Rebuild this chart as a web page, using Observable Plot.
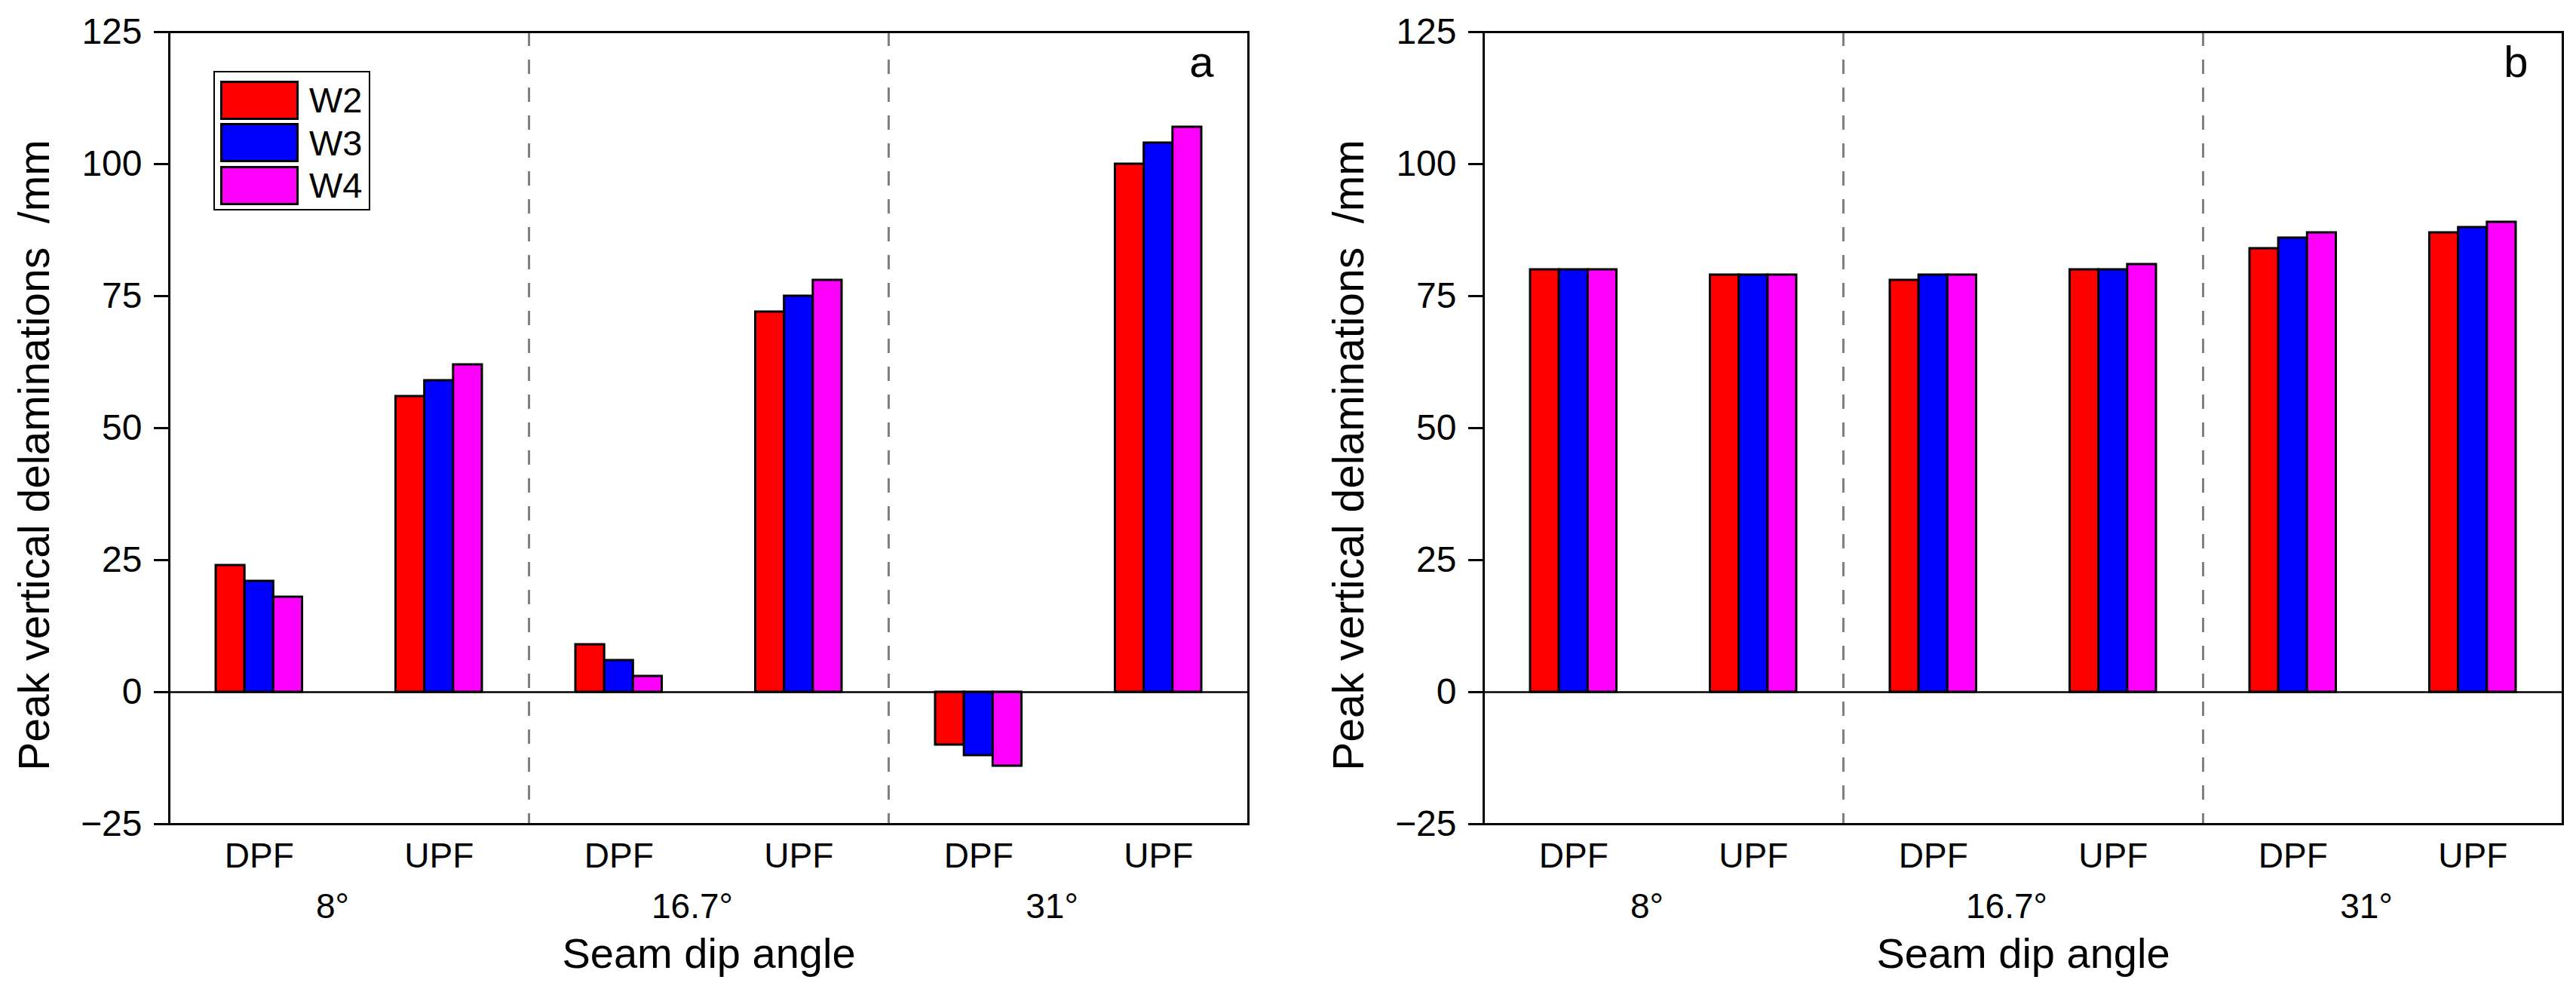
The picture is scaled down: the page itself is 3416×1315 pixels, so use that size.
<!DOCTYPE html>
<html>
<head>
<meta charset="utf-8">
<script src="https://cdn.jsdelivr.net/npm/d3@7"></script>
<script src="https://cdn.jsdelivr.net/npm/@observablehq/plot@0.6"></script>
<style>
  html, body { margin: 0; padding: 0; background: #fff; overflow: hidden; }
  #wrap { position: relative; width: 3416px; height: 1315px; display: flex; font-family: "Liberation Sans", Arial, sans-serif; }
  .legend { position: absolute; border: 2px solid #000; background: #fff; box-sizing: border-box; }
  .legend .row { position: absolute; display: flex; align-items: center; }
  .legend .sw { box-sizing: border-box; border: 3px solid #000; }
  .legend .lab { font-size: 47px; color: #000; }
</style>
</head>
<body>
<div id="wrap"></div>
<script>
// ---- data ----
const angles = ["8°", "16.7°", "31°"];
const sides = ["DPF", "UPF"];
const series = ["W2", "W3", "W4"];
const colors = ["#ff0000", "#0000ff", "#ff00ff"];
const yTicks = [-25, 0, 25, 50, 75, 100, 125];
const yDomain = [-25, 125];

// panel a values, in category order: 8° DPF, 8° UPF, 16.7° DPF, 16.7° UPF, 31° DPF, 31° UPF
const aW2 = [24, 56, 9, 72, -10, 100];
const aW3 = [21, 59, 6, 75, -12, 104];
const aW4 = [18, 62, 3, 78, -14, 107];
// panel b values
const bW2 = [80, 79, 78, 80, 84, 87];
const bW3 = [80, 79, 79, 80, 86, 88];
const bW4 = [80, 79, 79, 81, 87, 89];

const yTitle = "Peak vertical delaminations \u00a0/mm";
const xTitle = "Seam dip angle";

// ---- derived tables ----
const cats = angles.flatMap(a => sides.map(s => ({angle: a, side: s})));
const catPos = cats.map((c, i) => i + 1);
const groupWidth = 0.48;
const barW = groupWidth / series.length;
function buildTable(valueArrays) {
  const rows = [];
  cats.forEach((c, i) => {
    series.forEach((s, j) => {
      const x1 = catPos[i] - groupWidth / 2 + j * barW;
      rows.push({angle: c.angle, side: c.side, series: s, value: valueArrays[j][i], x1, x2: x1 + barW});
    });
  });
  return rows;
}
const seps = angles.slice(1).map((a, k) => (k + 1) * sides.length + 0.5);
const angleLabels = angles.map((a, k) => ({label: a, pos: k * sides.length + (sides.length + 1) / 2}));

const FONT = '"Liberation Sans", Arial, sans-serif';

function panel(valueArrays, letter, marginLeft, marginRight) {
  const table = buildTable(valueArrays);
  return Plot.plot({
    width: 1708,
    height: 1315,
    marginTop: 42,
    marginBottom: 223,
    marginLeft,
    marginRight,
    style: {fontFamily: FONT, background: "#fff", color: "#000", overflow: "visible"},
    x: {domain: [0.5, cats.length + 0.5]},
    y: {domain: yDomain},
    color: {domain: series, range: colors},
    marks: [
      Plot.ruleX(seps, {stroke: "#808080", strokeWidth: 3, strokeDasharray: "19,18"}),
      Plot.rectY(table, {x1: "x1", x2: "x2", y: "value", fill: "series", stroke: "#000", strokeWidth: 3}),
      Plot.ruleY([0], {stroke: "#000", strokeWidth: 2.5}),
      Plot.frame({stroke: "#000", strokeWidth: 3}),
      Plot.axisY({ticks: yTicks, tickSize: 20, tickPadding: 16, fontSize: 48, strokeWidth: 3, label: null}),
      Plot.axisX({ticks: catPos, tickFormat: d => cats[d - 1].side, tickSize: 0, tickPadding: 25, fontSize: 46, label: null}),
      Plot.text(angleLabels, {x: "pos", text: "label", frameAnchor: "bottom", lineAnchor: "top", dy: 92, dx: -22, fontSize: 46}),
      Plot.text([xTitle], {frameAnchor: "bottom", lineAnchor: "top", dy: 151, fontSize: 56}),
      Plot.text([yTitle], {frameAnchor: "left", textAnchor: "middle", lineAnchor: "middle", rotate: -90, dx: -178, dy: 36, fontSize: 57}),
      Plot.text([letter], {frameAnchor: "top-right", textAnchor: "end", lineAnchor: "top", dx: -46, dy: 18, fontSize: 58})
    ]
  });
}

const wrap = document.getElementById("wrap");
wrap.append(panel([aW2, aW3, aW4], "a", 224, 53));
wrap.append(panel([bW2, bW3, bW4], "b", 259, 18));

// legend (panel a)
const leg = document.createElement("div");
leg.className = "legend";
Object.assign(leg.style, {left: "283px", top: "94px", width: "208px", height: "185px"});
series.forEach((s, j) => {
  const row = document.createElement("div");
  row.className = "row";
  Object.assign(row.style, {left: "7px", top: (9 + j * 56.5) + "px"});
  const sw = document.createElement("div");
  sw.className = "sw";
  Object.assign(sw.style, {width: "104px", height: "52px", background: colors[j]});
  const lab = document.createElement("span");
  lab.className = "lab";
  lab.style.marginLeft = "14px";
  lab.textContent = s;
  row.append(sw, lab);
  leg.append(row);
});
wrap.append(leg);
</script>
</body>
</html>
